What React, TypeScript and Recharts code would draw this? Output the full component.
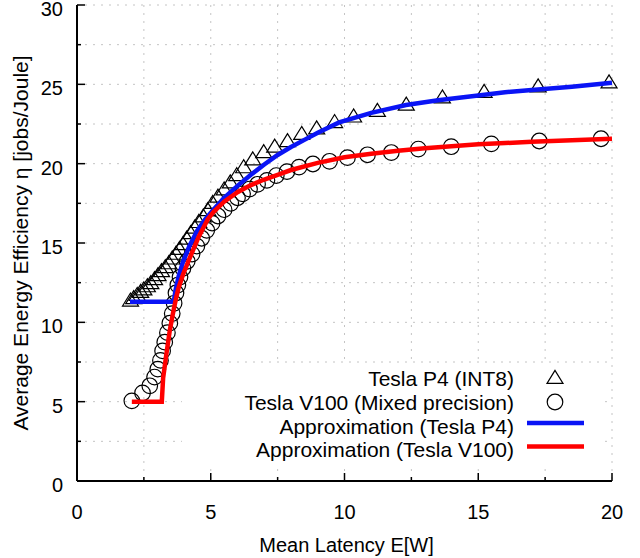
import React from "react";
import {
  ScatterChart,
  Scatter,
  XAxis,
  YAxis,
  CartesianGrid,
  Legend,
  Label,
} from "recharts";

// ---- Data ----
const p4Latency = [
  2.0, 2.12, 2.25, 2.38, 2.5, 2.63, 2.76, 2.9, 3.03, 3.16, 3.3, 3.43, 3.56, 3.7,
  3.83, 3.96, 4.1, 4.25, 4.4, 4.55, 4.72, 4.89, 5.07, 5.27, 5.5, 5.73, 5.97,
  6.23, 6.57, 6.98, 7.39, 7.87, 8.4, 8.96, 9.63, 10.34, 11.23, 12.31, 13.66,
  15.22, 17.24, 19.89,
];
const p4Efficiency = [
  11.3, 11.45, 11.65, 11.85, 12.0, 12.2, 12.4, 12.65, 12.9, 13.15, 13.4, 13.65,
  13.95, 14.25, 14.55, 14.85, 15.2, 15.55, 15.9, 16.25, 16.6, 17.0, 17.45,
  17.85, 18.3, 18.75, 19.2, 19.7, 20.2, 20.65, 21.0, 21.35, 21.8, 22.15, 22.55,
  22.9, 23.25, 23.65, 24.1, 24.45, 24.8, 25.05,
];

const v100Latency = [
  2.05, 2.45, 2.72, 2.9, 3.02, 3.12, 3.2, 3.28, 3.38, 3.47, 3.56, 3.63, 3.7,
  3.77, 3.85, 3.96, 4.12, 4.3, 4.48, 4.66, 4.85, 5.05, 5.27, 5.5, 5.75, 6.0,
  6.19, 6.45, 6.75, 7.1, 7.45, 7.85, 8.3, 8.82, 9.44, 10.11, 10.86, 11.75,
  12.76, 13.99, 15.49, 17.28, 19.59,
];
const v100Efficiency = [
  5.05, 5.55, 6.0, 6.55, 7.05, 7.6, 8.2, 8.75, 9.35, 9.95, 10.55, 11.2, 11.85,
  12.35, 12.85, 13.4, 13.85, 14.3, 14.8, 15.3, 15.8, 16.25, 16.7, 17.1, 17.5,
  17.85, 18.1, 18.4, 18.7, 18.95, 19.25, 19.5, 19.78, 19.98, 20.15, 20.38,
  20.56, 20.7, 20.92, 21.07, 21.25, 21.43, 21.57,
];

const approxP4Latency = [
  1.98, 3.62, 3.68, 3.8, 3.96, 4.2, 4.5, 4.8, 5.1, 5.5, 6.0, 6.5, 7.0, 7.5, 8.0,
  8.5, 9.0, 9.8, 11.0, 12.3, 13.5, 15.0, 16.0, 17.0, 18.5, 20.0,
];
const approxP4Efficiency = [
  11.3, 11.3, 12.0, 12.9, 13.8, 14.8, 15.8, 16.5, 17.1, 17.85, 18.6, 19.3,
  19.95, 20.55, 21.05, 21.5, 21.95, 22.6, 23.2, 23.7, 24.0, 24.3, 24.5, 24.65,
  24.85, 25.1,
];

const approxV100Latency = [
  2.05, 3.17, 3.22, 3.35, 3.47, 3.58, 3.7, 3.8, 3.96, 4.2, 4.35, 4.55, 4.89,
  5.1, 5.5, 6.0, 6.5, 7.0, 7.5, 8.0, 9.0, 10.0, 11.0, 12.0, 13.0, 14.0, 15.0,
  16.0, 17.0, 18.0, 19.0, 20.0,
];
const approxV100Efficiency = [
  5.0, 5.0, 6.5, 8.1, 9.5, 10.5, 11.5, 12.2, 13.0, 14.0, 14.6, 15.4, 16.5,
  16.95, 17.6, 18.2, 18.65, 19.0, 19.3, 19.6, 20.05, 20.4, 20.62, 20.82, 20.97,
  21.1, 21.22, 21.3, 21.38, 21.44, 21.5, 21.57,
];

const xTicks = [0, 2.5, 5, 7.5, 10, 12.5, 15, 17.5, 20];
const yTicks = [0, 2.5, 5, 7.5, 10, 12.5, 15, 17.5, 20, 22.5, 25, 27.5, 30];
const xMajorTicks = [0, 5, 10, 15, 20];
const yMajorTicks = [0, 5, 10, 15, 20, 25, 30];

const legendLabels = [
  "Tesla P4 (INT8)",
  "Tesla V100 (Mixed precision)",
  "Approximation (Tesla P4)",
  "Approximation (Tesla V100)",
];

const xTitle = "Mean Latency E[W]";
const yTitle = "Average Energy Efficiency η [jobs/Joule]";

// ---- Build series ----
const zip = (xs: number[], ys: number[]) =>
  xs.map((x, i) => ({ x, y: ys[i] }));

const p4Data = zip(p4Latency, p4Efficiency);
const v100Data = zip(v100Latency, v100Efficiency);
const approxP4Data = zip(approxP4Latency, approxP4Efficiency);
const approxV100Data = zip(approxV100Latency, approxV100Efficiency);

const FONT = "'Liberation Sans', Arial, Helvetica, sans-serif";
const BLUE = "#0a14f5";
const RED = "#ff0000";

// ---- Shapes ----
const TriangleShape = (props: any) => {
  const { cx, cy } = props;
  if (cx == null || cy == null) return <g />;
  const h = 13;
  const w = 16;
  const pts = `${cx},${cy - (2 * h) / 3} ${cx - w / 2},${cy + h / 3} ${cx + w / 2},${cy + h / 3}`;
  return <polygon points={pts} fill="none" stroke="#000" strokeWidth={1.2} />;
};

const CircleShape = (props: any) => {
  const { cx, cy } = props;
  if (cx == null || cy == null) return <g />;
  return <circle cx={cx} cy={cy} r={7.8} fill="none" stroke="#000" strokeWidth={1.2} />;
};

const NoShape = () => <g />;

// ---- Ticks ----
const isMajor = (v: number, majors: number[]) => majors.includes(v);

const BottomTick = (props: any) => {
  const { x, y, payload } = props;
  const major = isMajor(payload.value, xMajorTicks);
  return (
    <g>
      <line x1={x} x2={x} y1={y} y2={y - (major ? 8 : 4)} stroke="#000" strokeWidth={1.5} />
      {major && (
        <text x={x} y={y + 31} textAnchor="middle" dominantBaseline="central" fontSize={20} fontFamily={FONT} fill="#000">
          {payload.value}
        </text>
      )}
    </g>
  );
};

const TopTick = (props: any) => {
  const { x, y, payload } = props;
  const major = isMajor(payload.value, xMajorTicks);
  return <line x1={x} x2={x} y1={y} y2={y + (major ? 8 : 4)} stroke="#000" strokeWidth={1.5} />;
};

const LeftTick = (props: any) => {
  const { x, y, payload } = props;
  const major = isMajor(payload.value, yMajorTicks);
  return (
    <g>
      <line x1={x} x2={x + (major ? 8 : 4)} y1={y} y2={y} stroke="#000" strokeWidth={1.5} />
      {major && (
        <text x={x - 14} y={y + 4} textAnchor="end" dominantBaseline="central" fontSize={20} fontFamily={FONT} fill="#000">
          {payload.value}
        </text>
      )}
    </g>
  );
};

const RightTick = (props: any) => {
  const { x, y, payload } = props;
  const major = isMajor(payload.value, yMajorTicks);
  return <line x1={x} x2={x - (major ? 8 : 4)} y1={y} y2={y} stroke="#000" strokeWidth={1.5} />;
};

// ---- Legend ----
const LegendBox = () => {
  const rowY = [378, 402, 426, 449.5].map((v) => v - 364);
  const textRight = 514 - 182;
  const symX = 555 - 182;
  return (
    <svg width={418} height={102} style={{ display: "block", background: "#fff" }}>
      {legendLabels.map((lab, i) => (
        <text key={lab} x={textRight} y={rowY[i]} textAnchor="end" dominantBaseline="central" fontSize={21} fontFamily={FONT} fill="#000">
          {lab}
        </text>
      ))}
      <TriangleShape cx={symX} cy={rowY[0] + 1} />
      <CircleShape cx={symX} cy={rowY[1]} />
      <line x1={527 - 182} x2={584 - 182} y1={rowY[2] - 3} y2={rowY[2] - 3} stroke={BLUE} strokeWidth={4.5} />
      <line x1={527 - 182} x2={584 - 182} y1={rowY[3] - 3} y2={rowY[3] - 3} stroke={RED} strokeWidth={4.5} />
    </svg>
  );
};

export default function App() {
  return (
    <div style={{ position: "absolute", left: 0, top: 0, width: 640, height: 558, background: "#fff" }}>
      <ScatterChart width={640} height={558} margin={{ top: 5, right: 28, bottom: 0, left: 0 }}>
        <CartesianGrid stroke="#c4c4c4" strokeDasharray="2 6" strokeWidth={1} />
        <XAxis
          xAxisId={0}
          type="number"
          dataKey="x"
          domain={[0, 20]}
          ticks={xTicks}
          interval={0}
          height={77}
          tickSize={0}
          tickMargin={0}
          tickLine={false}
          axisLine={{ stroke: "#000", strokeWidth: 2 }}
          tick={<BottomTick />}
        >
          <Label
            content={(p: any) => {
              const vb = p.viewBox;
              return (
                <text x={vb.x + vb.width / 2 + 2} y={545} textAnchor="middle" dominantBaseline="central" fontSize={20} fontFamily={FONT} fill="#000">
                  {xTitle}
                </text>
              );
            }}
          />
        </XAxis>
        <XAxis
          xAxisId="top"
          orientation="top"
          type="number"
          dataKey="x"
          domain={[0, 20]}
          ticks={xTicks}
          interval={0}
          height={0}
          tickSize={0}
          tickMargin={0}
          tickLine={false}
          axisLine={{ stroke: "#000", strokeWidth: 2 }}
          tick={<TopTick />}
        />
        <YAxis
          yAxisId={0}
          type="number"
          dataKey="y"
          domain={[0, 30]}
          ticks={yTicks}
          interval={0}
          width={77}
          tickSize={0}
          tickMargin={0}
          tickLine={false}
          axisLine={{ stroke: "#000", strokeWidth: 2 }}
          tick={<LeftTick />}
        >
          <Label
            content={() => {
              const cy = 243;
              return (
                <text x={20} y={cy} transform={`rotate(-90, 20, ${cy})`} textAnchor="middle" dominantBaseline="central" fontSize={21} fontFamily={FONT} fill="#000">
                  {yTitle}
                </text>
              );
            }}
          />
        </YAxis>
        <YAxis
          yAxisId="right"
          orientation="right"
          type="number"
          dataKey="y"
          domain={[0, 30]}
          ticks={yTicks}
          interval={0}
          width={0}
          tickSize={0}
          tickMargin={0}
          tickLine={false}
          axisLine={{ stroke: "#000", strokeWidth: 2 }}
          tick={<RightTick />}
        />
        <Scatter name={legendLabels[0]} data={p4Data} shape={<TriangleShape />} isAnimationActive={false} />
        <Scatter name={legendLabels[1]} data={v100Data} shape={<CircleShape />} isAnimationActive={false} />
        <Scatter
          name={legendLabels[2]}
          data={approxP4Data}
          shape={<NoShape />}
          line={{ stroke: BLUE, strokeWidth: 4.5 }}
          lineType="joint"
          isAnimationActive={false}
        />
        <Scatter
          name={legendLabels[3]}
          data={approxV100Data}
          shape={<NoShape />}
          line={{ stroke: RED, strokeWidth: 4.5 }}
          lineType="joint"
          isAnimationActive={false}
        />
        <Legend
          layout="horizontal"
          verticalAlign="middle"
          align="center"
          content={() => <LegendBox />}
          wrapperStyle={{ position: "absolute", left: 182, top: 364, width: 418, height: 102, margin: 0, padding: 0 }}
        />
      </ScatterChart>
    </div>
  );
}
